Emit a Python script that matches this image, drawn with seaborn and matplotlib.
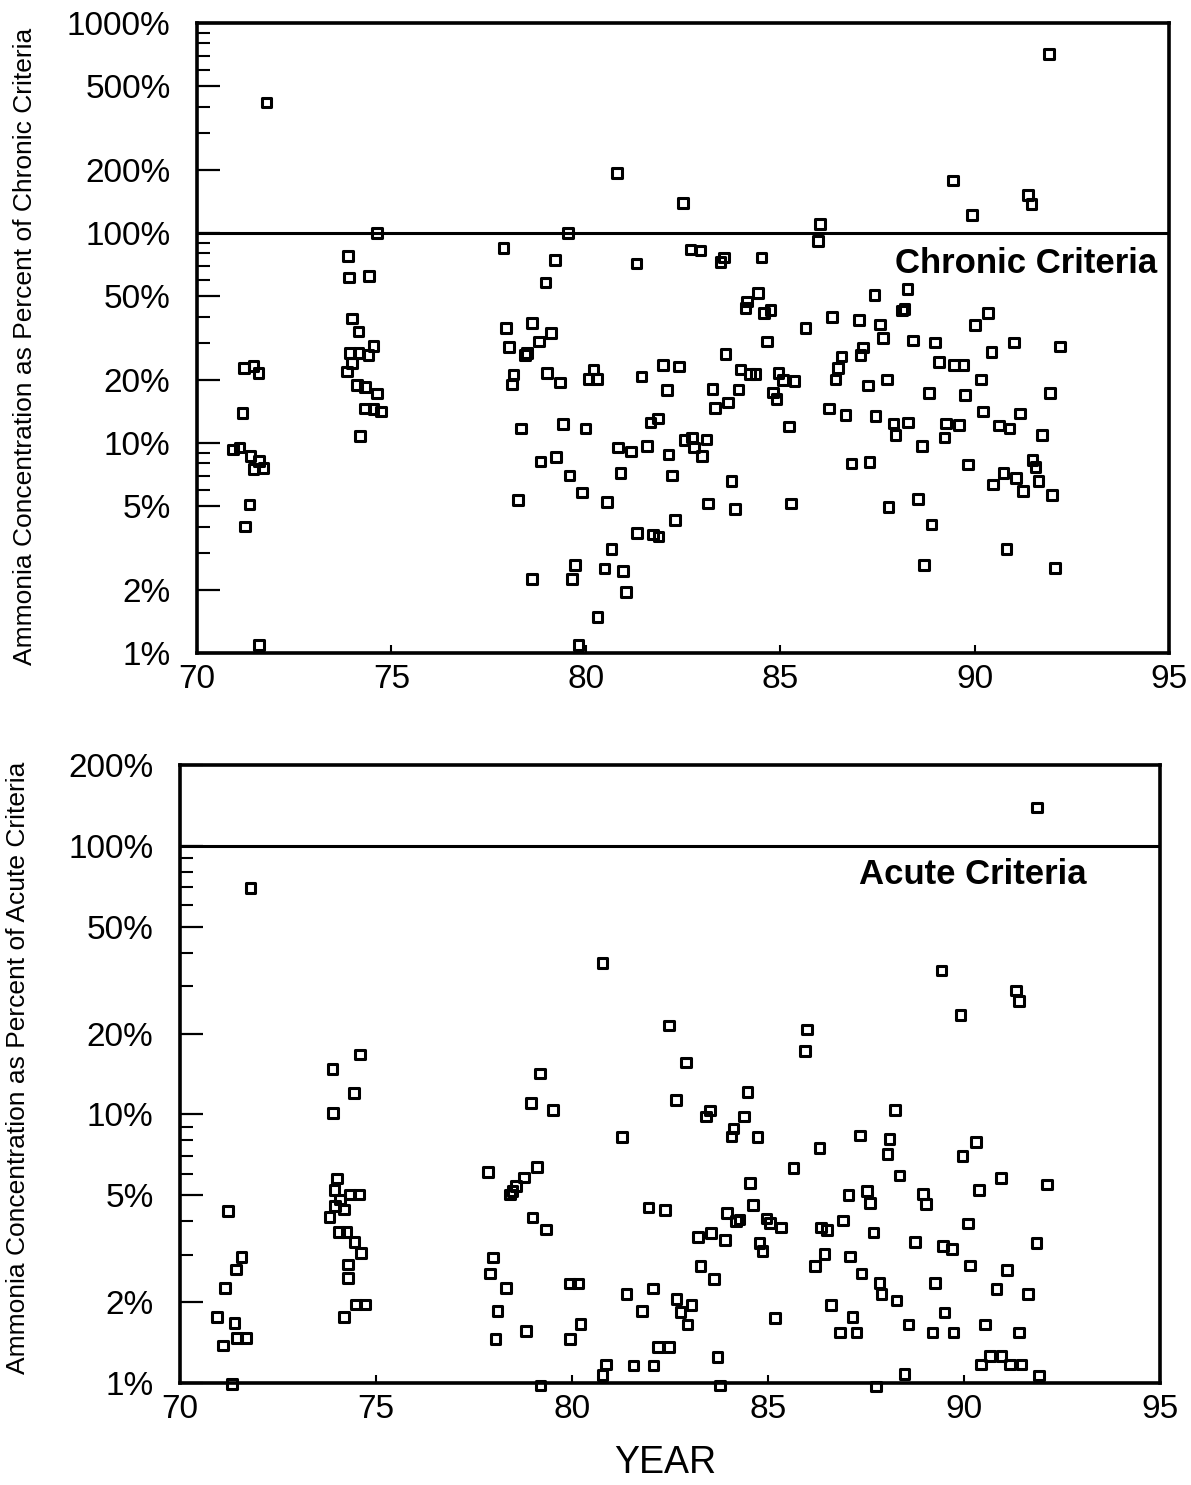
import matplotlib
matplotlib.use("Agg")
import matplotlib.pyplot as plt
import seaborn as sns
import pandas as pd
from matplotlib.ticker import FixedLocator, FixedFormatter, NullFormatter

# ---------------- data: chronic criteria panel ----------------
chronic_year = [
    71.21, 71.45, 71.58, 71.17, 70.93, 71.09, 71.38, 71.59, 71.45, 71.71, 71.35, 71.24, 71.60, 71.79,
    73.89, 73.91, 74.43, 74.63, 73.98, 74.15, 74.54, 73.94, 74.15, 74.41, 73.98, 73.85, 74.11, 74.32,
    74.63, 74.32, 74.54, 74.74, 74.20,
    82.50, 79.54, 77.88, 79.21, 81.30, 82.69, 82.95, 83.55, 83.46, 84.52, 78.96, 84.43, 84.15, 84.11,
    84.75, 84.58, 84.66, 77.95, 78.62, 79.11, 78.79, 78.03, 78.49, 78.44, 83.59, 78.14, 78.10, 79.00,
    79.34, 80.20, 80.07, 80.29, 81.43, 81.99, 82.39, 82.09, 83.26, 83.98, 84.23, 84.36, 83.93, 83.66,
    83.33, 84.96, 85.07, 85.37, 84.82, 84.90, 85.22, 78.34, 79.41, 79.99, 81.66, 81.85, 82.54, 82.73,
    82.79, 83.10, 82.99, 80.83, 81.17, 81.58, 82.13, 78.83, 79.24, 79.58, 80.89, 82.22, 83.75, 79.90,
    78.25, 80.55, 83.15, 83.83, 85.28, 82.29, 81.32, 81.73, 81.87, 80.66, 79.73, 80.48, 80.96, 78.62,
    79.64, 81.04, 80.30, 79.81, 80.81,
    91.91, 89.44, 91.37, 91.46, 89.94, 86.02, 85.98, 88.27, 87.43, 88.14, 88.20, 90.34, 86.34, 87.02,
    90.01, 85.65, 87.56, 87.65, 88.42, 88.98, 91.01, 92.20, 90.43, 87.13, 87.07, 86.58, 86.49, 86.42,
    87.26, 87.75, 89.08, 89.47, 89.71, 90.17, 88.82, 89.75, 91.94, 86.25, 86.68, 87.45, 87.91, 88.29,
    87.97, 88.65, 89.27, 89.60, 89.23, 90.21, 90.63, 90.90, 91.16, 91.74, 86.83, 87.30, 89.83, 91.49,
    91.57, 90.74, 91.06, 90.48, 91.25, 91.64, 91.99, 87.79, 88.55, 88.89, 90.82, 88.70, 92.06,
]
chronic_pct = [
    22.7, 23.3, 21.6, 13.9, 9.3, 9.5, 8.7, 8.2, 7.5, 7.6, 5.1, 4.0, 1.09, 419,
    77.7, 61.5, 62.4, 100, 39.2, 33.9, 29.0, 26.9, 26.9, 26.2, 24.0, 21.9, 18.9, 18.5,
    17.2, 14.6, 14.5, 14.1, 10.8,
    139, 100, 84.6, 74.4, 71.7, 83.6, 82.4, 76.6, 73.0, 76.3, 58.2, 51.9, 47.1, 43.8,
    43.0, 41.5, 30.4, 35.4, 37.2, 33.5, 30.4, 28.7, 26.8, 26.2, 26.5, 21.2, 19.0, 21.5,
    19.4, 22.4, 20.2, 20.2, 20.7, 23.5, 23.1, 17.9, 18.1, 22.4, 21.3, 21.3, 18.0, 15.6,
    14.7, 21.5, 20.0, 19.7, 17.4, 16.2, 12.0, 11.7, 12.3, 11.7, 12.5, 13.1, 10.3, 10.6,
    9.5, 10.4, 8.7, 9.5, 9.1, 9.7, 8.8, 8.15, 8.6, 7.0, 7.2, 7.0, 6.6, 5.8,
    5.35, 5.25, 5.16, 4.85, 5.16, 4.30, 3.72, 3.67, 3.58, 3.13, 2.62, 2.53, 2.46, 2.25,
    2.25, 1.95, 1.48, 1.09, 193,
    713, 178, 152, 137, 122, 110, 91.7, 54.0, 50.8, 42.8, 43.5, 41.6, 39.8, 38.5,
    36.4, 35.4, 36.7, 31.7, 30.8, 30.1, 30.1, 28.8, 27.2, 28.5, 26.2, 25.8, 22.8, 20.1,
    18.8, 20.1, 24.3, 23.5, 23.5, 20.1, 17.3, 16.9, 17.3, 14.6, 13.6, 13.4, 12.4, 12.5,
    10.9, 9.7, 12.4, 12.2, 10.6, 14.1, 12.1, 11.7, 13.8, 10.95, 8.0, 8.1, 7.9, 8.3,
    7.7, 7.2, 6.8, 6.35, 5.9, 6.6, 5.65, 4.97, 5.4, 4.09, 3.13, 2.62, 2.54,
]

# ---------------- data: acute criteria panel ----------------
acute_year = [
    71.22, 71.57, 71.43, 71.15, 70.94, 71.39, 71.45, 71.68, 71.09, 71.33, 71.80,
    73.89, 74.59, 74.44, 73.91, 74.00, 73.94, 74.34, 74.57, 74.08, 73.95, 74.19, 73.81, 74.06, 74.25,
    74.45, 74.62, 74.29, 74.28, 74.49, 74.72, 74.19,
    80.78, 82.47, 82.91, 79.18, 84.48, 78.95, 79.51, 82.65, 83.52, 83.42, 84.39, 84.12, 84.07, 84.73,
    81.27, 85.65, 77.85, 79.10, 78.78, 78.57, 78.48, 78.42, 84.54, 84.61, 83.95, 84.27, 84.18, 84.96,
    85.05, 85.33, 81.95, 82.37, 78.99, 79.34, 83.22, 83.55, 83.90, 84.78, 84.86, 83.28, 83.63, 77.98,
    77.91, 78.32, 78.10, 78.05, 78.82, 79.95, 80.15, 80.22, 79.95, 81.39, 82.06, 81.78, 82.67, 83.05,
    82.77, 82.95, 85.18, 82.19, 82.48, 83.71, 80.87, 80.78, 81.57, 82.08, 79.20, 83.78,
    85.99, 85.94, 86.31, 86.35, 86.50, 86.44, 86.20,
    91.87, 89.43, 91.33, 91.40, 89.91, 88.24, 87.35, 88.10, 88.05, 90.30, 89.96, 88.35, 90.94, 92.11,
    90.39, 87.05, 87.52, 87.60, 88.95, 89.03, 86.92, 87.69, 88.75, 89.46, 89.69, 90.11, 91.85, 87.09,
    87.39, 87.84, 87.90, 88.28, 90.15, 91.10, 89.26, 90.83, 91.64, 86.60, 87.16, 86.84, 87.26, 88.58,
    89.50, 89.20, 89.73, 90.53, 91.41, 90.43, 90.66, 90.96, 91.17, 91.47, 91.92, 88.48, 87.76,
]
acute_pct = [
    4.36, 2.95, 2.65, 2.26, 1.76, 1.67, 1.47, 1.47, 1.38, 0.99, 69.6,
    14.8, 16.7, 12.0, 10.1, 5.77, 5.22, 5.03, 5.03, 4.82, 4.55, 4.42, 4.15, 3.65, 3.65,
    3.35, 3.05, 2.76, 2.46, 1.96, 1.96, 1.76,
    36.6, 21.4, 15.6, 14.2, 12.1, 11.05, 10.4, 11.3, 10.35, 9.83, 9.83, 8.85, 8.28, 8.23,
    8.23, 6.32, 6.1, 6.37, 5.82, 5.40, 5.2, 5.03, 5.55, 4.59, 4.30, 4.06, 4.0, 4.10,
    3.94, 3.79, 4.50, 4.40, 4.13, 3.73, 3.50, 3.62, 3.40, 3.32, 3.10, 2.73, 2.44, 2.93,
    2.56, 2.26, 1.85, 1.46, 1.56, 2.35, 2.35, 1.66, 1.46, 2.14, 2.25, 1.85, 2.05, 1.95,
    1.84, 1.65, 1.75, 1.36, 1.36, 1.25, 1.17, 1.07, 1.16, 1.16, 0.98, 0.98,
    20.7, 17.2, 7.49, 3.79, 3.71, 3.02, 2.72,
    139, 34.4, 28.9, 26.4, 23.4, 10.4, 8.34, 8.11, 7.13, 7.91, 7.0, 5.92, 5.81, 5.48,
    5.24, 5.02, 5.2, 4.67, 5.05, 4.63, 4.03, 3.63, 3.35, 3.24, 3.15, 3.93, 3.32, 2.96,
    2.56, 2.36, 2.14, 2.03, 2.74, 2.63, 2.36, 2.24, 2.14, 1.95, 1.76, 1.54, 1.54, 1.65,
    1.83, 1.54, 1.54, 1.65, 1.54, 1.17, 1.26, 1.26, 1.17, 1.17, 1.065, 1.08, 0.97,
]

x_ticks = [70, 75, 80, 85, 90, 95]
chronic_yticks = [1, 2, 5, 10, 20, 50, 100, 200, 500, 1000]
acute_yticks = [1, 2, 5, 10, 20, 50, 100, 200]
minor_subs = [3, 4, 6, 7, 8, 9]
criteria_level = 100

sns.set_style("white")
plt.rcParams['font.family'] = ['Liberation Sans', 'DejaVu Sans']
plt.rcParams['text.color'] = 'black'
plt.rcParams['xtick.color'] = 'black'
plt.rcParams['ytick.color'] = 'black'

fig = plt.figure(figsize=(11.91, 14.85), dpi=100)
ax1 = fig.add_axes([0.16541, 0.56027, 0.81612, 0.42424])
ax2 = fig.add_axes([0.15113, 0.06869, 0.82284, 0.41616])


def draw(ax, years, pcts, yticks, ymax):
    df = pd.DataFrame({"year": years, "pct": pcts})
    ax.set_yscale('log')
    ax.axhline(criteria_level, color='black', lw=2.2, zorder=2)
    sns.scatterplot(data=df, x="year", y="pct", ax=ax, marker='s', s=48,
                    facecolor='none', edgecolor='black', linewidth=2.2,
                    clip_on=False, zorder=3)
    ax.set_xlim(70, 95)
    ax.set_ylim(1, ymax)
    ax.set_xlabel('')
    ax.set_ylabel('')
    ax.yaxis.set_major_locator(FixedLocator(yticks))
    ax.yaxis.set_major_formatter(FixedFormatter([f"{t}%" for t in yticks]))
    minors = [m * d for d in [1, 10, 100] for m in minor_subs if m * d < ymax]
    ax.yaxis.set_minor_locator(FixedLocator(minors))
    ax.yaxis.set_minor_formatter(NullFormatter())
    ax.xaxis.set_major_locator(FixedLocator(x_ticks))
    ax.xaxis.set_major_formatter(FixedFormatter([str(t) for t in x_ticks]))
    ax.tick_params(axis='y', which='major', direction='in', length=16.5, width=1.6,
                   pad=19, labelsize=24, left=True, right=False)
    ax.tick_params(axis='y', which='minor', direction='in', length=9, width=1.5,
                   left=True, right=False)
    ax.tick_params(axis='x', which='major', direction='in', length=6, width=1.5,
                   pad=8, labelsize=24, bottom=True, top=False)
    ax.tick_params(axis='x', which='minor', bottom=False, top=False)
    for sp in ax.spines.values():
        sp.set_linewidth(2.6)
        sp.set_color('black')
    ax.grid(False)


draw(ax1, chronic_year, chronic_pct, chronic_yticks, 1000)
draw(ax2, acute_year, acute_pct, acute_yticks, 200)

ax1.text(0.988, 0.603, 'Chronic Criteria', transform=ax1.transAxes, ha='right',
         va='baseline', fontsize=25, fontweight='bold')
ax2.text(0.9255, 0.8074, 'Acute Criteria', transform=ax2.transAxes, ha='right',
         va='baseline', fontsize=25, fontweight='bold')

fig.text(0.021, 0.7667, 'Ammonia Concentration as Percent of Chronic Criteria',
         rotation=90, ha='center', va='center', fontsize=19)
fig.text(0.0151, 0.2811, 'Ammonia Concentration as Percent of Acute Criteria',
         rotation=90, ha='center', va='center', fontsize=19)
fig.text(0.5584, 0.0081, 'YEAR', ha='center', va='baseline', fontsize=27)

fig.savefig('out.png', dpi=100)
